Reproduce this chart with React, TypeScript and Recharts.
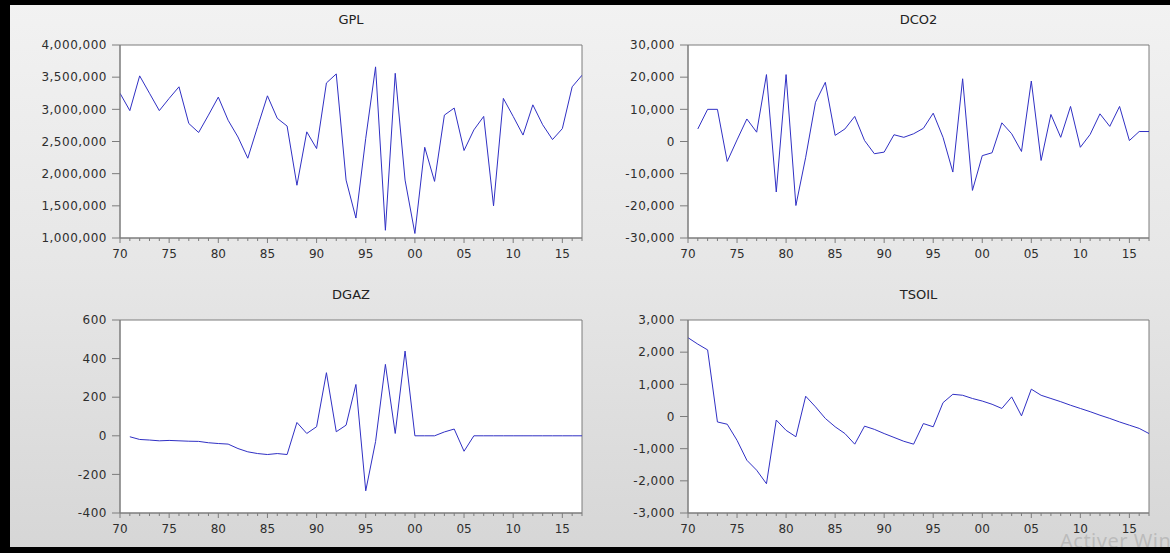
import React from 'react';
import { LineChart, Line, XAxis, YAxis, ReferenceArea } from 'recharts';

const years = [
  1970, 1971, 1972, 1973, 1974, 1975, 1976, 1977, 1978, 1979,
  1980, 1981, 1982, 1983, 1984, 1985, 1986, 1987, 1988, 1989,
  1990, 1991, 1992, 1993, 1994, 1995, 1996, 1997, 1998, 1999,
  2000, 2001, 2002, 2003, 2004, 2005, 2006, 2007, 2008, 2009,
  2010, 2011, 2012, 2013, 2014, 2015, 2016, 2017,
];

const gpl = [
  3250000, 2980000, 3520000, 3250000, 2980000, 3170000, 3350000, 2780000, 2640000, 2910000,
  3190000, 2830000, 2570000, 2240000, 2730000, 3210000, 2860000, 2740000, 1820000, 2650000,
  2390000, 3410000, 3550000, 1900000, 1310000, 2550000, 3660000, 1120000, 3560000, 1900000,
  1070000, 2410000, 1880000, 2910000, 3020000, 2360000, 2680000, 2890000, 1500000, 3170000,
  2890000, 2600000, 3070000, 2760000, 2530000, 2700000, 3350000, 3530000,
];

const dco2 = [
  null, 3900, 10000, 10000, -6200, 500, 7000, 2900, 20800, -15700,
  20800, -19900, -4900, 12200, 18400, 1900, 3900, 7800, 300, -3800,
  -3300, 2100, 1300, 2400, 4100, 8800, 1300, -9500, 19500, -15200,
  -4400, -3500, 5800, 2400, -3100, 18800, -5900, 8400, 1300, 10900,
  -1800, 2200, 8600, 4700, 10900, 300, 3100, 3100,
];

const dgaz = [
  null, -5, -19, -22, -26, -24, -26, -28, -29, -36,
  -40, -43, -66, -83, -92, -97, -92, -97, 69, 12,
  47, 327, 21, 55, 266, -285, -30, 370, 12, 439,
  0, 0, 0, 20, 35, -80, 0, 0, 0, 0,
  0, 0, 0, 0, 0, 0, 0, 0,
];

const tsoil = [
  2450, 2250, 2070, -170, -240, -740, -1360, -1670, -2090, -110,
  -430, -630, 630, 300, -60, -320, -530, -860, -300, -400,
  -530, -650, -770, -860, -220, -320, 430, 690, 660, 560,
  480, 380, 250, 610, 20, 850, 660, 560, 460, 350,
  250, 150, 40, -60, -170, -270, -370, -530,
];

const gplTicks = [1000000, 1500000, 2000000, 2500000, 3000000, 3500000, 4000000];
const dco2Ticks = [-30000, -20000, -10000, 0, 10000, 20000, 30000];
const dgazTicks = [-400, -200, 0, 200, 400, 600];
const tsoilTicks = [-3000, -2000, -1000, 0, 1000, 2000, 3000];

const FONT = '"DejaVu Sans", Verdana, sans-serif';
const AXIS = '#7c7c7c';
const TXT = '#2e2e2e';
const LINE = '#3030c4';

const fmt = (v: number) => v.toLocaleString('en-US');

function YearTick(props: any) {
  const { x, y, payload } = props;
  const v = payload.value as number;
  const major = v % 5 === 0;
  const lbl = String(v % 100).padStart(2, '0');
  return (
    <g>
      <line x1={x} x2={x} y1={y} y2={y + (major ? 5 : 3)} stroke={AXIS} strokeWidth={1} />
      {major && (
        <text x={x} y={y + 20} textAnchor="middle" fontSize={12} fill={TXT} fontFamily={FONT}>
          {lbl}
        </text>
      )}
    </g>
  );
}

type PanelProps = {
  title: string;
  values: (number | null)[];
  yTicks: number[];
  left: number;
  top: number;
  width: number;
  yAxisWidth: number;
  marginRight: number;
};

function Panel({ title, values, yTicks, left, top, width, yAxisWidth, marginRight }: PanelProps) {
  const data = years.map((yr, i) => ({ year: yr, v: values[i] }));
  const yMin = yTicks[0];
  const yMax = yTicks[yTicks.length - 1];
  const plotLeft = yAxisWidth;
  const plotRight = width - marginRight;
  return (
    <div style={{ position: 'absolute', left, top, width, height: 270 }}>
      <div
        style={{
          position: 'absolute',
          left: plotLeft,
          width: plotRight - plotLeft,
          top: 12,
          textAlign: 'center',
          fontFamily: FONT,
          fontSize: 13,
          lineHeight: '16px',
          color: '#222',
        }}
      >
        {title}
      </div>
      <LineChart width={width} height={270} data={data} margin={{ top: 45, right: marginRight, bottom: 0, left: 0 }}>
        <ReferenceArea
          x1={1970}
          x2={2017}
          y1={yMin}
          y2={yMax}
          fill="#ffffff"
          fillOpacity={1}
          stroke={AXIS}
          strokeWidth={1}
        />
        <XAxis
          dataKey="year"
          type="number"
          domain={[1970, 2017]}
          ticks={years}
          interval={0}
          tick={<YearTick />}
          tickLine={false}
          tickSize={0}
          tickMargin={0}
          height={32}
          stroke={AXIS}
          allowDataOverflow
        />
        <YAxis
          type="number"
          domain={[yMin, yMax]}
          ticks={yTicks}
          interval={0}
          width={yAxisWidth}
          tickFormatter={fmt}
          tick={{ fontSize: 12, fill: TXT, fontFamily: FONT, letterSpacing: 0.5 }}
          tickSize={8}
          tickMargin={5}
          stroke={AXIS}
          allowDataOverflow
        />
        <Line
          dataKey="v"
          type="linear"
          stroke={LINE}
          strokeWidth={1}
          dot={false}
          activeDot={false}
          isAnimationActive={false}
          connectNulls={false}
        />
      </LineChart>
    </div>
  );
}

export default function App() {
  return (
    <div
      style={{
        position: 'absolute',
        left: 0,
        top: 0,
        width: 1170,
        height: 553,
        overflow: 'hidden',
        background: 'linear-gradient(#f2f2f2, #e6e6e6 50%, #d6d6d6)',
      }}
    >
      <Panel title="GPL" values={gpl} yTicks={gplTicks} left={0} top={0} width={600} yAxisWidth={120} marginRight={18} />
      <Panel title="DCO2" values={dco2} yTicks={dco2Ticks} left={580} top={0} width={590} yAxisWidth={108} marginRight={21} />
      <Panel title="DGAZ" values={dgaz} yTicks={dgazTicks} left={0} top={275} width={600} yAxisWidth={120} marginRight={18} />
      <Panel title="TSOIL" values={tsoil} yTicks={tsoilTicks} left={580} top={275} width={590} yAxisWidth={108} marginRight={21} />
      <div
        style={{
          position: 'absolute',
          left: 1060,
          top: 531,
          fontFamily: '"Noto Sans", "Open Sans", sans-serif',
          fontSize: 20,
          lineHeight: '20px',
          letterSpacing: 0.5,
          color: 'rgba(175,175,175,0.7)',
          whiteSpace: 'nowrap',
        }}
      >
        Activer Windows
      </div>
      <div style={{ position: 'absolute', left: 0, top: 0, width: 1170, height: 5, background: '#000' }} />
      <div style={{ position: 'absolute', left: 0, top: 0, width: 10, height: 553, background: '#000' }} />
      <div style={{ position: 'absolute', left: 0, top: 547, width: 1170, height: 6, background: '#000' }} />
    </div>
  );
}
